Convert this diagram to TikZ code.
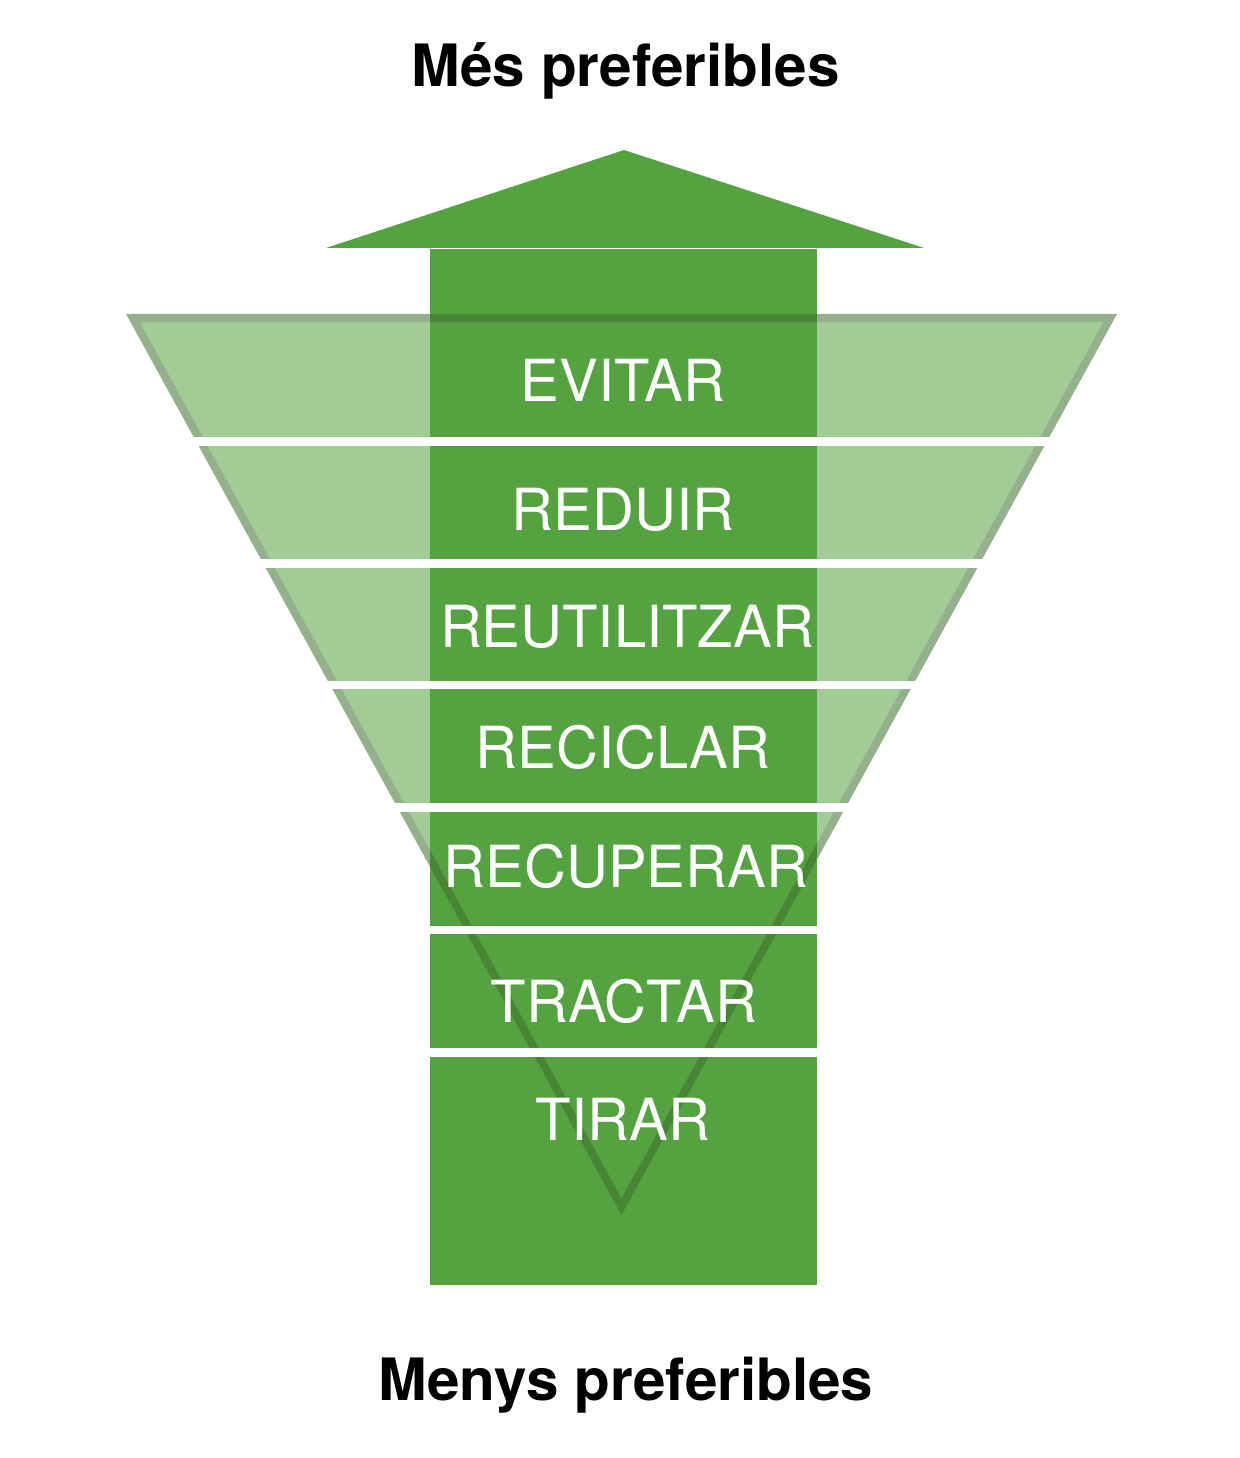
\documentclass[tikz,border=0pt]{standalone}
\usepackage{fontspec}
\setmainfont{TeX Gyre Heros}
\usepackage{xcolor}
\definecolor{arrowgreen}{HTML}{55A340}
\definecolor{funneledge}{HTML}{3E6F2E}

\begin{document}
\begin{tikzpicture}[x=0.01cm,y=-0.01cm,
    level/.style={text=white,inner sep=0,anchor=base,font=\fontsize{16.5}{19}\selectfont},
    heading/.style={text=black,inner sep=0,anchor=base,font=\fontsize{16.6}{20}\selectfont\bfseries},
    gap/.style={white,line width=0.088cm}]
    \useasboundingbox (0,0) rectangle (1239,1458);

    % Arrow
    \fill[arrowgreen] (430,249.5) rectangle (816.5,1285);
    \fill[arrowgreen] (326,248) -- (624,150) -- (924,248) -- cycle;

    % Funnel
    \begin{scope}[transparency group,opacity=0.55]
        \filldraw[fill=arrowgreen,draw=funneledge,line width=0.08cm]
            (132.8,318) -- (1110.2,318) -- (621.5,1206.7) -- cycle;
    \end{scope}

    % Gaps between the levels
    \foreach \gy in {441.5,563.5,685,807.5,930,1052.5} {
        \pgfmathsetmacro\hw{0.55*(1215-\gy)+4}
        \pgfmathsetmacro\gl{min(621.5-\hw,430)}
        \pgfmathsetmacro\gr{max(621.5+\hw,816.5)}
        \draw[gap] (\gl,\gy) -- (\gr,\gy);
    }

    % Levels
    \node[level] (evitar) at (623,402) {EVITAR};
    \node[level] (reduir) at (623,530) {REDUIR};
    \node[level] (reutilitzar) at (627,647) {REUTILITZAR};
    \node[level] (reciclar) at (623,768) {RECICLAR};
    \node[level] (recuperar) at (626,887) {RECUPERAR};
    \node[level] (tractar) at (624,1022) {TRACTAR};
    \node[level] (tirar) at (623,1140) {TIRAR};

    % Headings
    \node[heading] (mes) at (625.5,87) {Més preferibles};
    \node[heading] (menys) at (626,1400) {Menys preferibles};
\end{tikzpicture}
\end{document}
